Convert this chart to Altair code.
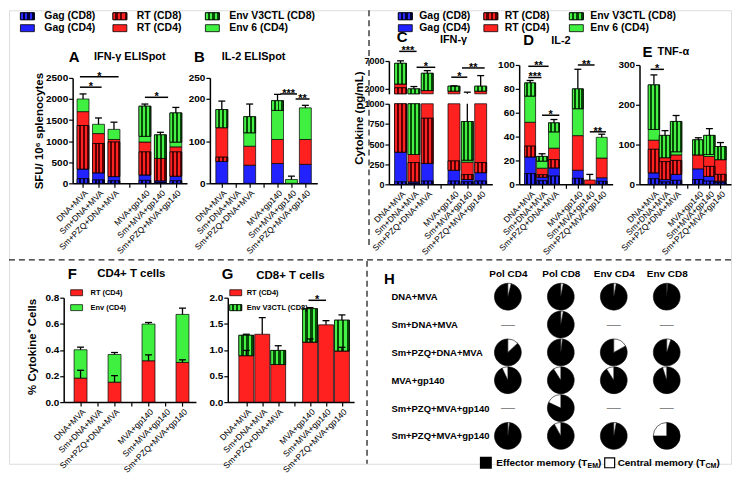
import json
import math
import altair as alt
import pandas as pd

# ---------------- data ----------------
CATEGORIES = ["DNA+MVA", "Sm+DNA+MVA", "Sm+PZQ+DNA+MVA", "", "MVA+gp140",
              "Sm+MVA+gp140", "Sm+PZQ+MVA+gp140"]
SERIES = ["Gag (CD8)", "Gag (CD4)", "RT (CD8)", "RT (CD4)", "Env 6 (CD4)",
          "Env (CD4)", "Env V3CTL (CD8)"]
SERIES_COLORS = ["#16169e", "#2222ff", "#b51414", "#ff2020", "#40f040",
                 "#40f040", "#23a023"]
CHECKER = {"Gag (CD8)": ("#2a2aff", "#000040"),
           "RT (CD8)": ("#ff2222", "#5a0000"),
           "Env V3CTL (CD8)": ("#46f046", "#064a06")}

# panel A: IFN-g ELISpot (SFU / 10^6 splenocytes)
A_VALUES = {
    "Gag (CD8)":       [110, 80, 60, None, 70, 20, 60],
    "Gag (CD4)":       [230, 170, 100, None, 130, 40, 110],
    "RT (CD8)":        [1030, 695, 820, None, 545, 530, 575],
    "RT (CD4)":        [330, 235, 60, None, 235, 0, 120],
    "Env 6 (CD4)":     [300, 220, 240, None, 135, 0, 115],
    "Env V3CTL (CD8)": [0, 0, 0, None, 715, 560, 690],
}
A_ERR = [120, 150, 170, None, 50, 60, 130]
A_SIG = [(-0.2, 1.2, 2280, "*"), (-0.2, 2.3, 2530, "*"), (4.0, 5.5, 2040, "*")]

# panel B: IL-2 ELISpot
B_VALUES = {
    "Gag (CD8)":       [0, None, 0, None, 0, 0, 0],
    "Gag (CD4)":       [52, None, 43, None, 47, 0, 45],
    "RT (CD8)":        [10, None, 0, None, 0, 0, 0],
    "RT (CD4)":        [70, None, 45, None, 57, 0, 59],
    "Env 6 (CD4)":     [0, None, 32, None, 69, 9, 75],
    "Env V3CTL (CD8)": [43, None, 38, None, 23, 0, 0],
}
B_ERR = [20, None, 30, None, 15, 8, 6]
B_SIG = [(4.2, 5.4, 212, "***"), (5.3, 6.3, 200, "**")]

# panel C: IFN-g cytokine (pg/mL), broken axis
C_VALUES = {
    "Gag (CD8)":       [30, 10, 40, None, 40, 30, 40],
    "Gag (CD4)":       [370, 20, 220, None, 135, 30, 105],
    "RT (CD8)":        [1700, 240, 560, None, 115, 60, 125],
    "RT (CD4)":        [700, 100, 780, None, 1210, 155, 1230],
    "Env 6 (CD4)":     [0, 0, 0, None, 0, 25, 0],
    "Env V3CTL (CD8)": [3780, 1540, 3160, None, 900, 480, 900],
}
C_ERR = [450, 420, 480, None, 60, 520, 1930]
C_SIG = [(-0.1, 1.2, 8760, "***"), (1.2, 2.6, 5850, "*"),
         (3.8, 5.0, 4040, "*"), (4.6, 6.3, 5730, "**")]

# panel D: IL-2 cytokine
D_VALUES = {
    "Gag (CD8)":       [9, 3, 6.9, None, 5, 0, 2.5],
    "Gag (CD4)":       [14, 3, 6.9, None, 6.8, 0, 3],
    "RT (CD8)":        [9, 2, 6.9, None, 0, 0, 0],
    "RT (CD4)":        [20, 5.5, 9.6, None, 29, 3.6, 16.5],
    "Env 6 (CD4)":     [22, 6, 13.7, None, 22.6, 0, 17.4],
    "Env V3CTL (CD8)": [11, 3.9, 7.5, None, 16.6, 0, 0],
}
D_ERR = [2, 2.2, 2.8, None, 16.4, 4.7, 2.6]
D_SIG = [(-0.15, 1.55, 98.9, "**"), (-0.15, 0.95, 89.5, "***"),
         (1.0, 2.45, 57.9, "*"), (4.0, 5.4, 100, "**"), (5.0, 6.35, 44, "**")]

# panel E: TNF-a cytokine
E_VALUES = {
    "Gag (CD8)":       [14, 6, 10, None, 12, 8, 4],
    "Gag (CD4)":       [15, 6, 15, None, 27, 12, 4],
    "RT (CD8)":        [59, 45, 35, None, 0, 25, 17],
    "RT (CD4)":        [23, 10, 14, None, 35, 25, 37],
    "Env 6 (CD4)":     [27, 0, 8, None, 0, 5, 0],
    "Env V3CTL (CD8)": [112, 56, 76, None, 38, 48, 33],
}
E_ERR = [25, 12, 15, None, 5, 17, 10]
E_SIG = [(-0.3, 0.9, 289, "*")]

# panel F: CD4+ T cells (% cytokine+)
F_VALUES = {
    "RT (CD4)":  [0.184, None, 0.153, None, 0.317, None, 0.304],
    "Env (CD4)": [0.217, None, 0.212, None, 0.281, None, 0.368],
}
F_ERR = [0.02, None, 0.015, None, 0.012, None, 0.048]
F_INNER_ERR = [0.06, None, 0.05, None, 0.045, None, 0.02]

# panel G: CD8+ T cells
G_VALUES = {
    "RT (CD4)":        [0.89, 1.30, 0.72, None, 1.15, 1.48, 0.98],
    "Env V3CTL (CD8)": [0.39, 0, 0.27, None, 0.64, 0, 0.59],
}
G_ERR = [0.02, 0.32, 0.09, None, 0.02, 0.08, 0.10]
G_INNER_ERR = [0.10, 0, 0, None, 0.06, 0, 0.07]
G_SIG = [(3.9, 5.0, 1.95, "*")]

# panel H: memory phenotype pies (% central memory)
H_COLUMNS = ["Pol CD4", "Pol CD8", "Env CD4", "Env CD8"]
H_ROWS = ["DNA+MVA", "Sm+DNA+MVA", "Sm+PZQ+DNA+MVA", "MVA+gp140",
          "Sm+PZQ+MVA+gp140", "Sm+PZQ+MVA+gp140"]
H_CM_PERCENT = {
    "Pol CD4": [4, None, 13, 7, None, 2],
    "Pol CD8": [3, 3, 2, 9, 18, 8],
    "Env CD4": [3, None, 17, 9, None, 3],
    "Env CD8": [1, None, 5, 5, None, 25],
}
H_CM_FIRST = {
    "Pol CD4": [True, None, True, False, None, True],
    "Pol CD8": [True, True, True, False, False, False],
    "Env CD4": [True, None, True, False, None, True],
    "Env CD8": [True, None, True, False, None, False],
}

TOP_LEGEND = [("Gag (CD8)", 0, 0), ("Gag (CD4)", 0, 1), ("RT (CD8)", 1, 0),
              ("RT (CD4)", 1, 1), ("Env V3CTL (CD8)", 2, 0), ("Env 6 (CD4)", 2, 1)]

# ---------------- helpers ----------------
W, H = 726, 456
DUMMY = pd.DataFrame({"d": [0]})
COLOR_SCALE = alt.Scale(domain=SERIES, range=SERIES_COLORS)
RECT_PATH = "M-1,-0.5L1,-0.5L1,0.5L-1,0.5Z"
LABEL_EXPR = json.dumps(CATEGORIES) + "[datum.value]"


def stripes(c, d, n=6):
    stops = []
    for k in range(n):
        col = c if k % 2 == 0 else d
        stops.append({"offset": k / n, "color": col})
        stops.append({"offset": (k + 1) / n, "color": col})
    return {"gradient": "linear", "x1": 0, "y1": 0, "x2": 1, "y2": 0, "stops": stops}


def stack_long(values):
    rows = []
    for s, arr in values.items():
        for i, v in enumerate(arr):
            if v is not None and v > 0:
                rows.append({"idx": i, "series": s, "value": v, "order": SERIES.index(s)})
    return pd.DataFrame(rows)


def error_table(values, errs, inner=None):
    rows = []
    for i, e in enumerate(errs):
        if e is None:
            continue
        top = sum(arr[i] for arr in values.values() if arr[i] is not None)
        rows.append({"idx": i, "top": top, "hi": top + e})
    if inner:
        name, ierr = inner
        for i, e in enumerate(ierr):
            if e:
                v = values[name][i]
                rows.append({"idx": i, "top": v, "hi": v + e})
    return pd.DataFrame(rows)


def x_axis(ypos):
    return alt.Axis(orient="bottom", offset=ypos - H, values=list(range(7)),
                    labelExpr=LABEL_EXPR, labelAngle=315, labelAlign="right",
                    labelBaseline="top", labelFontSize=8.5, labelColor="black",
                    labelOverlap=False, labelFlush=False, labelPadding=1,
                    domainColor="black", domainWidth=1.5, tickColor="black",
                    tickWidth=1.2, tickSize=4, title=None, grid=False)


def y_axis(xpos, values, fmt, title=None, tx=None, ty=None, fs=10):
    kw = dict(orient="left", offset=-xpos, values=values, format=fmt, grid=False,
              domainColor="black", domainWidth=1.5, tickColor="black",
              tickWidth=1.2, tickSize=4, labelFontSize=fs, labelFontWeight="bold",
              labelColor="black", labelPadding=1, labelFlush=False, title=title)
    if title:
        kw.update(titleX=tx, titleY=ty, titleAngle=270, titleBaseline="middle",
                  titleAlign="center", titleFontSize=11.5, titleFontWeight="bold",
                  titleColor="black")
    return alt.Axis(**kw)


def bar_panel(values, errs, sigs, xdom, xrange, ydom, yrange, xa, ya, size,
              cut=None, inner=None):
    df = stack_long(values)
    xs = alt.Scale(domain=xdom, range=xrange, nice=False, zero=False)
    ys = alt.Scale(domain=ydom, range=yrange, nice=False, zero=False)

    def X(f):
        return alt.X(f, scale=xs, axis=xa)

    def Y(f):
        return alt.Y(f, scale=ys, axis=ya)

    base = alt.Chart(df).transform_stack(
        stack="value", groupby=["idx"], as_=["s0", "s1"],
        sort=[alt.SortField("order", order="ascending")])
    if cut and cut[0] == "upper":
        t = cut[1]
        base = base.transform_filter(f"datum.s1 > {t}").transform_calculate(
            b0=f"max(datum.s0, {t})", b1="datum.s1")
    elif cut and cut[0] == "lower":
        t = cut[1]
        base = base.transform_filter(f"datum.s0 < {t}").transform_calculate(
            b0="datum.s0", b1=f"min(datum.s1, {t})")
    else:
        base = base.transform_calculate(b0="datum.s0", b1="datum.s1")

    layers = [base.mark_bar(size=size, stroke="black", strokeWidth=0.7).encode(
        x=X("idx:Q"), y=Y("b0:Q"), y2="b1:Q",
        color=alt.Color("series:N", scale=COLOR_SCALE, legend=None))]
    present = set(df["series"])
    for s, (c, d) in CHECKER.items():
        if s in present:
            layers.append(base.transform_filter(alt.datum.series == s).mark_bar(
                size=size, fill=stripes(c, d), stroke="black", strokeWidth=0.7
            ).encode(x=X("idx:Q"), y=Y("b0:Q"), y2="b1:Q"))

    edf = error_table(values, errs, inner)
    eb = alt.Chart(edf)
    if cut and cut[0] == "upper":
        t = cut[1]
        eb = eb.transform_filter(f"datum.hi > {t}").transform_calculate(
            e0=f"max(datum.top, {t})", e1="datum.hi", cap="1")
    elif cut and cut[0] == "lower":
        t = cut[1]
        eb = eb.transform_filter(f"datum.top < {t}").transform_calculate(
            e0="datum.top", e1=f"min(datum.hi, {t})",
            cap=f"datum.hi <= {t} ? 1 : 0")
    else:
        eb = eb.transform_calculate(e0="datum.top", e1="datum.hi", cap="1")
    layers.append(eb.mark_rule(color="black", strokeWidth=1.3).encode(
        x=X("idx:Q"), y=Y("e0:Q"), y2="e1:Q"))
    layers.append(eb.transform_filter("datum.cap == 1").mark_tick(
        orient="horizontal", size=7, thickness=1.3, color="black", opacity=1
    ).encode(x=X("idx:Q"), y=Y("e1:Q")))

    if sigs:
        sdf = pd.DataFrame([{"x1": a, "x2": b, "xm": (a + b) / 2, "y": y, "label": t}
                            for a, b, y, t in sigs])
        layers.append(alt.Chart(sdf).mark_rule(color="black", strokeWidth=1.5).encode(
            x=X("x1:Q"), x2="x2:Q", y=Y("y:Q")))
        layers.append(alt.Chart(sdf).mark_text(
            fontSize=11, fontWeight="bold", baseline="alphabetic", dy=3, color="black"
        ).encode(x=X("xm:Q"), y=Y("y:Q"), text="label:N"))
    return alt.layer(*layers)


def label(text, x, y, size=11, align="center", weight="bold"):
    return alt.Chart(DUMMY).mark_text(
        text=text, fontSize=size, fontWeight=weight, align=align,
        baseline="middle", color="black").encode(x=alt.value(x), y=alt.value(y))


def top_legend(xrange, dx):
    ldf = pd.DataFrame([{"series": s, "col": c, "row": r} for s, c, r in TOP_LEGEND])
    xs = alt.Scale(domain=[0, 2], range=xrange)
    ys = alt.Scale(domain=[0, 1], range=[6, 18])
    X = alt.X("col:Q", scale=xs, axis=None)
    Y = alt.Y("row:Q", scale=ys, axis=None)
    layers = [alt.Chart(ldf).mark_point(
        shape=RECT_PATH, size=196, filled=True, opacity=1, stroke="black",
        strokeWidth=0.8).encode(x=X, y=Y, color=alt.Color(
            "series:N", scale=COLOR_SCALE, legend=None))]
    for s, (c, d) in CHECKER.items():
        layers.append(alt.Chart(ldf).transform_filter(alt.datum.series == s).mark_point(
            shape=RECT_PATH, size=196, filled=True, opacity=1, fill=stripes(c, d),
            stroke="black", strokeWidth=0.8).encode(x=X, y=Y))
    layers.append(alt.Chart(ldf).mark_text(
        align="left", baseline="middle", dx=dx, fontSize=10.5, fontWeight="bold",
        color="black").encode(x=X, y=Y, text="series:N"))
    return alt.layer(*layers)


def small_legend(items, xsw, xtext, yrange):
    ldf = pd.DataFrame([{"series": s, "row": r} for s, r in items])
    ys = alt.Scale(domain=[0, 1], range=yrange)
    Y = alt.Y("row:Q", scale=ys, axis=None)
    layers = [alt.Chart(ldf).mark_point(
        shape=RECT_PATH, size=144, filled=True, opacity=1, stroke="black",
        strokeWidth=0.7).encode(x=alt.value(xsw), y=Y, color=alt.Color(
            "series:N", scale=COLOR_SCALE, legend=None))]
    for s, (c, d) in CHECKER.items():
        if s in [i[0] for i in items]:
            layers.append(alt.Chart(ldf).transform_filter(alt.datum.series == s).mark_point(
                shape=RECT_PATH, size=144, filled=True, opacity=1, fill=stripes(c, d),
                stroke="black", strokeWidth=0.7).encode(x=alt.value(xsw), y=Y))
    layers.append(alt.Chart(ldf).mark_text(
        align="left", baseline="middle", fontSize=7.5, fontWeight="bold",
        color="black").encode(x=alt.value(xtext), y=Y, text="series:N"))
    return alt.layer(*layers)


def dashed(x=None, x2=None, y=None, y2=None):
    enc = {}
    for k, v in (("x", x), ("x2", x2), ("y", y), ("y2", y2)):
        if v is not None:
            enc[k] = alt.value(v)
    return alt.Chart(DUMMY).mark_rule(strokeDash=[6, 4], strokeWidth=1.3,
                                      color="#222").encode(**enc)


# ---------------- panels ----------------
panels = []

panels.append(top_legend([18.5, 204.5], 17))
panels.append(top_legend([398.5, 570.5], 14))

# A
panels.append(bar_panel(
    A_VALUES, A_ERR, A_SIG, [-0.35, 6.4], [64, 179], [0, 2500], [174, 68],
    x_axis(174), y_axis(64, [0, 500, 1000, 1500, 2000, 2500], "d",
                        "SFU/ 10\u2076 splenocytes", -33, 121), 12))
panels += [label("A", 60, 47, 15, "left"), label("IFN-\u03b3 ELISpot", 121.5, 47)]

# B
panels.append(bar_panel(
    B_VALUES, B_ERR, B_SIG, [-0.5, 6.5], [202, 310], [0, 250], [174, 68],
    x_axis(174), y_axis(202, [0, 100, 200, 250], "d"), 12))
panels += [label("B", 186, 47, 15, "left"), label("IL-2 ELISpot", 246, 47)]

# C (broken axis)
panels.append(bar_panel(
    C_VALUES, C_ERR, C_SIG, [-0.5, 6.5], [382, 486], [1000, 7000], [84, 51],
    None, y_axis(382, [2000, 7000], "d", fs=9), 12, cut=("upper", 1000)))
panels.append(bar_panel(
    C_VALUES, C_ERR, [], [-0.5, 6.5], [382, 486], [0, 1000], [175, 94],
    x_axis(175), y_axis(382, [0, 250, 500, 750, 1000], "d",
                        "Cytokine (pg/mL)", -30, 108, fs=9), 12, cut=("lower", 1000)))
panels += [label("C", 390, 27, 15, "left"), label("IFN-\u03b3", 447, 30)]

# D
panels.append(bar_panel(
    D_VALUES, D_ERR, D_SIG, [-0.5, 6.5], [513, 607], [0, 100], [175, 55],
    x_axis(175), y_axis(513, [0, 20, 40, 60, 80, 100], "d"), 11))
panels += [label("D", 517, 30, 15, "left"), label("IL-2", 555, 31)]

# E
panels.append(bar_panel(
    E_VALUES, E_ERR, E_SIG, [-0.85, 6.5], [634, 726], [0, 300], [175, 55],
    x_axis(175), y_axis(634, [0, 100, 200, 300], "d"), 11.5))
panels += [label("E", 637, 42, 15, "left"), label("TNF-\u03b1", 668, 42)]

# F
panels.append(bar_panel(
    F_VALUES, F_ERR, [], [-0.7, 6.5], [55, 188], [0, 0.8], [394, 289],
    x_axis(394), y_axis(55, [0, 0.2, 0.4, 0.6, 0.8], ".1f",
                        "% Cytokine\u207a Cells", -31, 338), 13,
    inner=("RT (CD4)", F_INNER_ERR)))
panels.append(small_legend([("RT (CD4)", 0), ("Env (CD4)", 1)], 68, 82, [284, 299]))
panels += [label("F", 59, 265, 15, "left"), label("CD4+ T cells", 123, 265, 11.5)]

# G
panels.append(bar_panel(
    G_VALUES, G_ERR, G_SIG, [-0.85, 6.45], [220, 347], [0, 2.0], [394, 289],
    x_axis(394), y_axis(220, [0, 0.5, 1.0, 1.5, 2.0], ".1f"), 15,
    inner=("RT (CD4)", G_INNER_ERR)))
panels.append(small_legend([("RT (CD4)", 0), ("Env V3CTL (CD8)", 1)], 228, 239, [284, 299]))
panels += [label("G", 214, 265, 15, "left"), label("CD8+ T cells", 283, 267, 11.5)]

# H pies
pie_rows, dash_rows = [], []
for c in H_COLUMNS:
    for r, (f, first) in enumerate(zip(H_CM_PERCENT[c], H_CM_FIRST[c])):
        if f is None:
            dash_rows.append({"col": c, "r": r})
            continue
        f = f / 100.0
        if first:
            cm, em = (0.0, f), (f, 1.0)
        else:
            em, cm = (0.0, 1.0 - f), (1.0 - f, 1.0)
        pie_rows.append({"col": c, "r": r, "kind": "EM", "p0": em[0], "p1": em[1]})
        pie_rows.append({"col": c, "r": r, "kind": "CM", "p0": cm[0], "p1": cm[1]})
pie_df = pd.DataFrame(pie_rows)
dash_df = pd.DataFrame(dash_rows)

hx = alt.Scale(type="point", domain=H_COLUMNS, range=[475, 688], padding=0.5)
hy = alt.Scale(type="point", domain=list(range(6)), range=[274, 442], padding=0.5)
hxa = alt.Axis(orient="top", offset=-274, ticks=False, domain=False, labelAngle=0,
               labelFontSize=10, labelFontWeight="bold", labelColor="black",
               labelPadding=4, title=None, grid=False)
hya = alt.Axis(orient="left", offset=-475, ticks=False, tickSize=0, domain=False,
               labelAlign="left", labelPadding=91, labelFontSize=9.5,
               labelFontWeight="bold", labelColor="black", grid=False, title=None,
               labelExpr=json.dumps(H_ROWS) + "[toNumber(datum.value)]")
theta_scale = alt.Scale(domain=[0, 1], range=[0, 2 * math.pi])
h_layers = []
for kind, fill in (("EM", "black"), ("CM", "white")):
    h_layers.append(alt.Chart(pie_df).transform_filter(alt.datum.kind == kind).mark_arc(
        radius=13.5, fill=fill, stroke="black", strokeWidth=0.6, opacity=1).encode(
        x=alt.X("col:N", scale=hx, axis=hxa), y=alt.Y("r:O", scale=hy, axis=hya),
        theta=alt.Theta("p0:Q", scale=theta_scale), theta2="p1:Q"))
h_layers.append(alt.Chart(dash_df).mark_text(text="\u2014", fontSize=14, color="#888").encode(
    x=alt.X("col:N", scale=hx, axis=hxa), y=alt.Y("r:O", scale=hy, axis=hya)))
panels.append(alt.layer(*h_layers))
panels.append(label("H", 377, 270, 15, "left"))

# H legend
LY = 455
panels.append(alt.Chart(DUMMY).mark_point(shape="square", size=100, filled=True, opacity=1,
                                          fill="black", stroke="black").encode(
    x=alt.value(479.5), y=alt.value(LY)))
panels.append(label("Effector memory (T", 490, LY, 10, "left"))
panels.append(label("EM", 581.7, LY + 3.5, 7, "left"))
panels.append(label(")", 592.2, LY, 10, "left"))
panels.append(alt.Chart(DUMMY).mark_point(shape="square", size=100, filled=True, opacity=1,
                                          fill="white", stroke="black", strokeWidth=1.2).encode(
    x=alt.value(604), y=alt.value(LY)))
panels.append(label("Central memory (T", 612, LY, 10, "left"))
panels.append(label("CM", 700.4, LY + 3.5, 7, "left"))
panels.append(label(")", 711.3, LY, 10, "left"))

# dividers
panels.append(dashed(x=362, y=0, y2=236))
panels.append(dashed(x=0, x2=W, y=251))
panels.append(dashed(x=360, y=252, y2=456))

chart = alt.layer(*panels).resolve_scale(
    x="independent", y="independent"
).properties(
    width=W, height=H, padding={"left": 0, "right": 0, "top": 0, "bottom": 0}
).configure_view(stroke=None).configure(font="Liberation Sans")

chart.save("out.html", embed_options={"renderer": "svg", "actions": False})
